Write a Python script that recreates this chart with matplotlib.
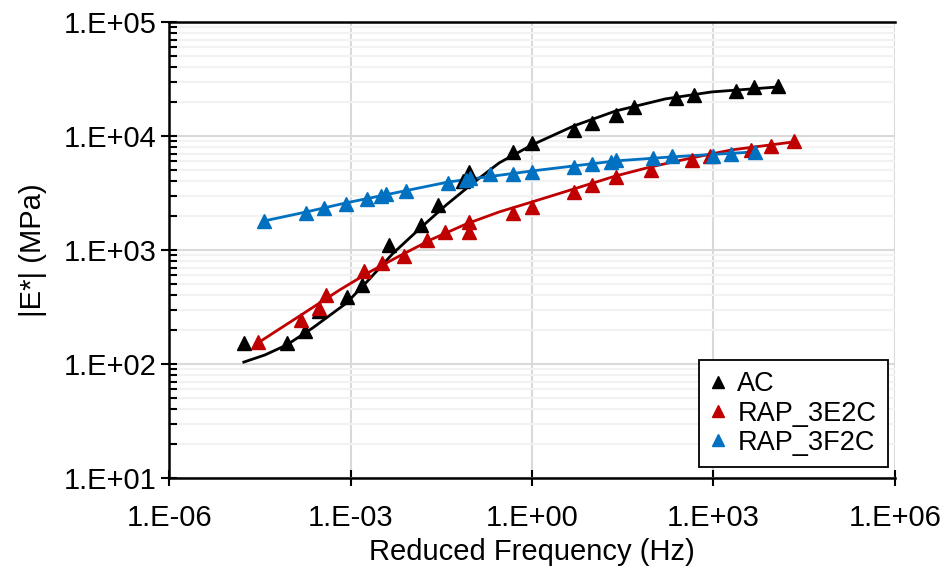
import numpy as np
import matplotlib
matplotlib.use('Agg')
import matplotlib.pyplot as plt
from matplotlib.ticker import LogLocator, NullFormatter

plt.rcParams['font.family'] = ['Liberation Sans', 'DejaVu Sans']

# measured points (reduced frequency Hz, |E*| MPa)
ac_f = [1.72e-5, 8.8e-5, 1.75e-4, 2.96e-4, 8.6e-4, 1.52e-3, 4.4e-3, 0.0148, 0.0282,
        0.0728, 0.0914, 0.486, 1.0, 4.92, 9.75, 24.2, 48, 236, 468, 2390, 4730, 11800]
ac_e = [153, 153, 195, 292, 387, 493, 1107, 1656, 2483, 4030, 4830, 7250, 8690,
        11300, 13000, 15300, 17900, 21500, 22900, 24800, 26900, 27500]

e2c_f = [2.93e-5, 1.50e-4, 2.96e-4, 4.0e-4, 1.70e-3, 3.37e-3, 7.76e-3, 0.0186, 0.0368,
         0.0914, 0.0914, 0.486, 1.0, 4.92, 9.75, 24.2, 91.5, 434, 891, 4230, 9030, 21600]
e2c_e = [156, 243, 310, 403, 655, 769, 885, 1225, 1439, 1762, 1439, 2113, 2382,
         3228, 3715, 4365, 5036, 6150, 6680, 7540, 8160, 9040]

f2c_f = [3.68e-5, 1.81e-4, 3.59e-4, 8.26e-4, 1.84e-3, 3.24e-3, 3.92e-3, 8.38e-3, 0.0412,
         0.0817, 0.094, 0.203, 0.486, 1.0, 4.92, 9.75, 20, 24.2, 98.6, 203, 1000, 1980, 4920]
f2c_e = [1795, 2113, 2334, 2535, 2800, 2977, 3097, 3297, 3873, 4112, 4300, 4645, 4645,
         4830, 5350, 5680, 5910, 6150, 6410, 6680, 6680, 6950, 7250]

# fitted master curves
ac_fit_f = [1.72e-5, 3.82e-5, 8.8e-5, 2.36e-4, 8.6e-4, 2.06e-3, 4.92e-3, 0.0137, 0.0382,
            0.1064, 0.286, 1.0, 4.92, 24.2, 161, 927, 11800]
ac_fit_e = [104, 120, 147, 207, 343, 557, 923, 1528, 2483, 3873, 5800, 8340, 12250,
            16550, 21130, 24300, 26900]

e2c_fit_f = [2.93e-5, 1.44e-4, 6.59e-4, 2.06e-3, 6.41e-3, 0.02244, 0.0817, 0.286, 1.0,
             4.92, 24.2, 91.5, 434, 1980, 20800]
e2c_fit_e = [153, 264, 446, 641, 885, 1247, 1690, 2155, 2638, 3428, 4457, 5350,
             6410, 7540, 8850]

f2c_fit_f = [3.68e-5, 1.81e-4, 8.26e-4, 0.0412, 1.0, 24.2, 203, 4920]
f2c_fit_e = [1795, 2150, 2582, 3945, 4930, 6040, 6550, 7250]

x_ticks = [1e-6, 1e-3, 1e0, 1e3, 1e6]
x_labels = ['1.E-06', '1.E-03', '1.E+00', '1.E+03', '1.E+06']
y_ticks = [1e1, 1e2, 1e3, 1e4, 1e5]
y_labels = ['1.E+01', '1.E+02', '1.E+03', '1.E+04', '1.E+05']

c_ac = 'black'
c_e2c = '#C00000'
c_f2c = '#0070C0'

fig = plt.figure(figsize=(9.5, 5.76), dpi=100)
ax = fig.add_axes([0.178, 0.170, 0.764, 0.792])

ax.plot(ac_fit_f, ac_fit_e, color=c_ac, lw=2, zorder=3)
ax.plot(e2c_fit_f, e2c_fit_e, color=c_e2c, lw=2, zorder=3)
ax.plot(f2c_fit_f, f2c_fit_e, color=c_f2c, lw=2, zorder=3)

ax.plot(ac_f, ac_e, ls='none', marker='^', ms=10.5, color=c_ac, label='AC', zorder=4)
ax.plot(e2c_f, e2c_e, ls='none', marker='^', ms=10.5, color=c_e2c, label='RAP_3E2C', zorder=4)
ax.plot(f2c_f, f2c_e, ls='none', marker='^', ms=10.5, color=c_f2c, label='RAP_3F2C', zorder=4)

ax.set_xscale('log')
ax.set_yscale('log')
ax.set_xlim(1e-6, 1e6)
ax.set_ylim(1e1, 1e5)

ax.set_xticks(x_ticks)
ax.set_xticklabels(x_labels)
ax.xaxis.set_minor_locator(plt.NullLocator())
ax.set_yticks(y_ticks)
ax.set_yticklabels(y_labels)
ax.yaxis.set_minor_locator(LogLocator(base=10, subs=np.arange(2, 10)))
ax.yaxis.set_minor_formatter(NullFormatter())

ax.tick_params(axis='both', which='major', direction='inout', length=12, width=1.5,
               labelsize=21)
ax.tick_params(axis='x', which='major', pad=13)
ax.tick_params(axis='y', which='major', pad=3)
ax.tick_params(axis='y', which='minor', direction='in', length=6, width=1.5)

ax.grid(True, which='major', color='#D9D9D9', lw=1.5, zorder=0)
ax.grid(True, which='minor', axis='y', color='#F2F2F2', lw=1.5, zorder=0)
ax.set_axisbelow(True)

for s in ['left', 'bottom', 'top']:
    ax.spines[s].set_linewidth(1.8)
    ax.spines[s].set_color('black')
ax.spines['right'].set_visible(False)

ax.set_xlabel('Reduced Frequency (Hz)', fontsize=21, labelpad=4)
ax.set_ylabel('|E*| (MPa)', fontsize=21, labelpad=12)

leg = ax.legend(loc='lower right', fontsize=19.5, frameon=True, fancybox=False,
                framealpha=1, edgecolor='black', handlelength=0.6, handletextpad=0.4,
                borderpad=0.42, labelspacing=0.12, markerscale=0.85,
                borderaxespad=0, bbox_to_anchor=(0.990, 0.024))
leg.get_frame().set_linewidth(1.3)

fig.savefig('out.png', dpi=100)
